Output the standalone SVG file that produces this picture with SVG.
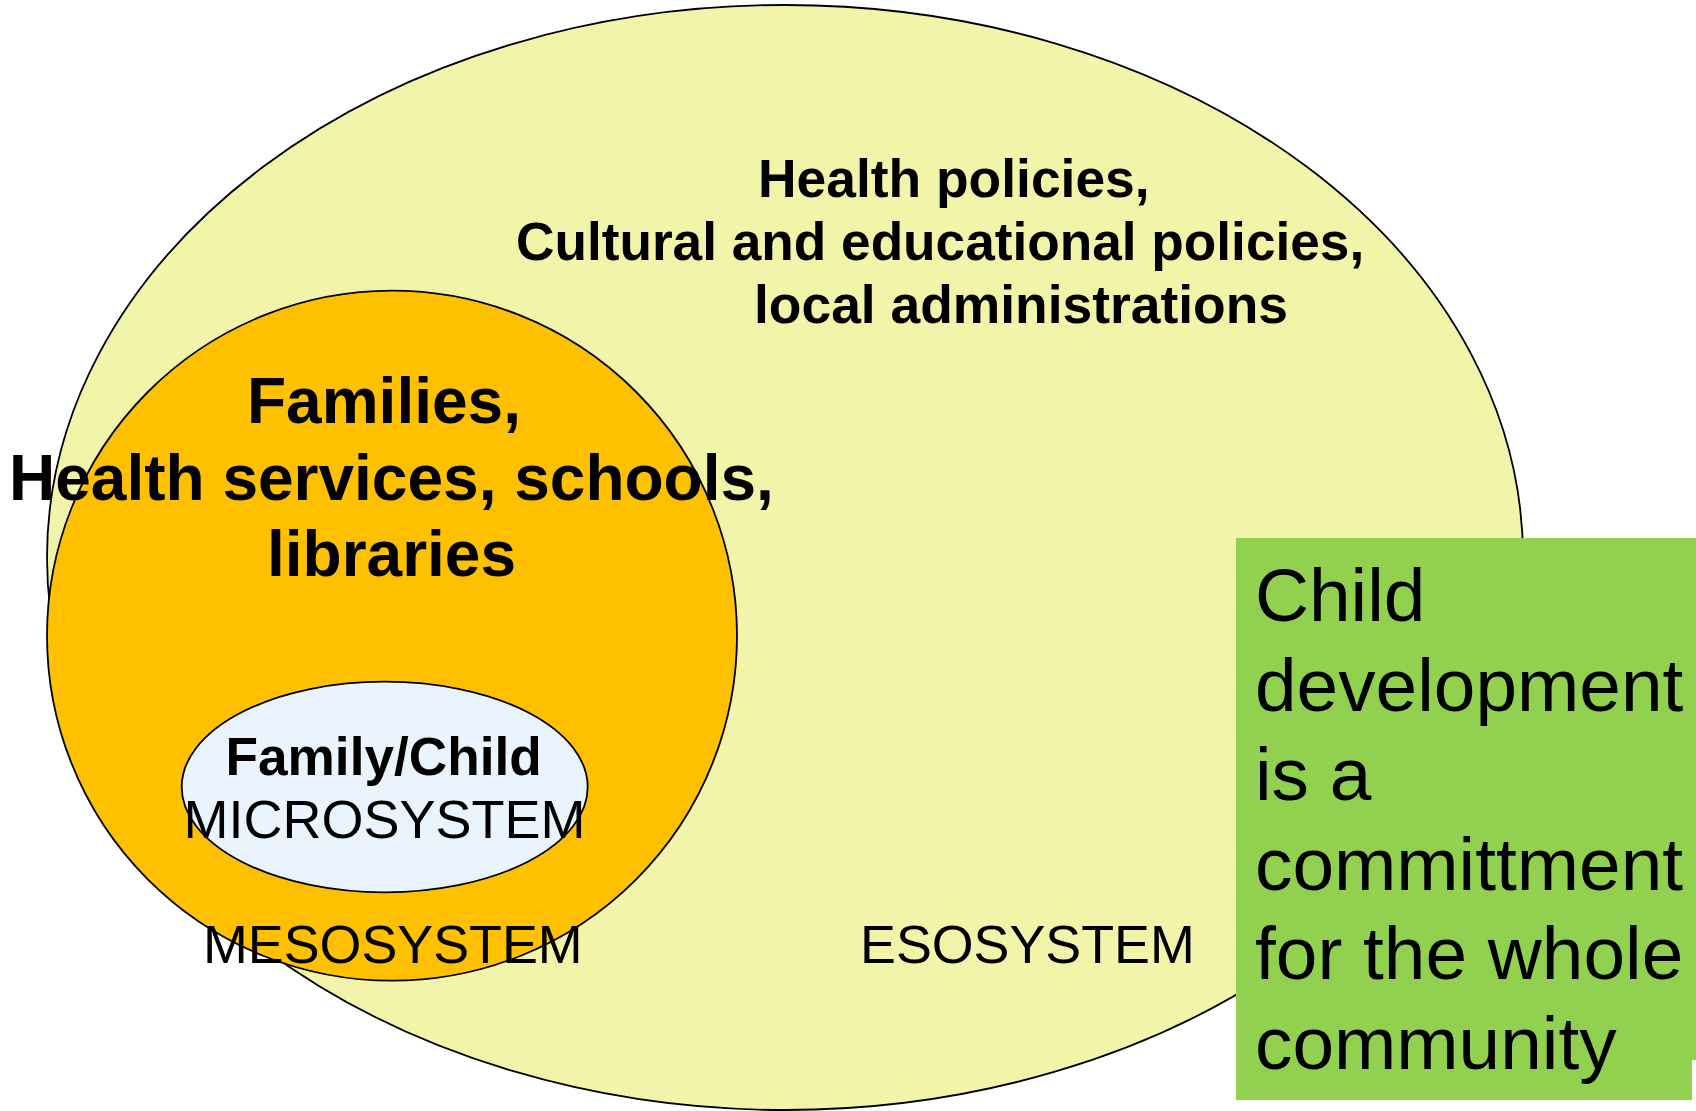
<svg xmlns="http://www.w3.org/2000/svg" width="1696" height="1111" viewBox="0 0 1696 1111">
<style>
.shape{stroke:#000;stroke-width:1.8}
.t{font-family:"Liberation Sans",Arial,Helvetica,sans-serif;fill:#000}
.b{font-weight:bold}
</style>
<rect width="1696" height="1111" fill="#fff"/>
<g id="esosystem">
<ellipse class="shape" cx="785" cy="557.5" rx="738" ry="552.5" fill="#F2F5A9"/>
<text class="t b" font-size="53.4" x="758" y="197">Health policies,</text>
<text class="t b" font-size="53.2" x="516" y="260">Cultural and educational policies,</text>
<text class="t b" font-size="53.4" x="754" y="323">local administrations</text>
<text class="t" font-size="53.8" x="860" y="963">ESOSYSTEM</text>
</g>
<g id="mesosystem">
<ellipse class="shape" cx="392" cy="635.7" rx="345" ry="345" fill="#FFC000"/>
<text class="t b" font-size="64" x="247" y="423">Families,</text>
<text class="t b" font-size="64" x="9" y="499.5">Health services, schools,</text>
<text class="t b" font-size="64" x="267" y="576">libraries</text>
<text class="t" font-size="53.8" x="203" y="963">MESOSYSTEM</text>
</g>
<g id="microsystem">
<ellipse class="shape" cx="384.7" cy="787" rx="203" ry="105.3" fill="#EAF4FE"/>
<text class="t b" font-size="53.2" x="225.5" y="775">Family/Child</text>
<text class="t" font-size="54" x="183.5" y="838">MICROSYSTEM</text>
</g>
<g id="note">
<path d="M1236 538H1696V1060H1692V1100H1236Z" fill="#92D050"/>
<text class="t" font-size="74.8">
<tspan x="1255" y="621">Child</tspan>
<tspan x="1255" y="710.5">development</tspan>
<tspan x="1255" y="800">is a</tspan>
<tspan x="1255" y="889.5">committment</tspan>
<tspan x="1255" y="979">for the whole</tspan>
<tspan x="1255" y="1069">community</tspan>
</text>
</g>
<g id="connectors"/>
</svg>
